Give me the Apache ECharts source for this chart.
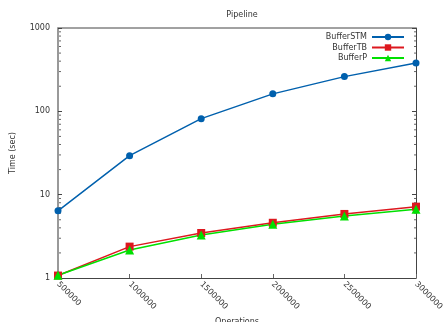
<!DOCTYPE html>
<html>
<head>
<meta charset="utf-8">
<script src="https://cdn.jsdelivr.net/npm/echarts@6/dist/echarts.min.js"></script>
<style>
  html, body { margin: 0; padding: 0; background: #fff; }
  #chart { width: 443px; height: 322px; }
</style>
</head>
<body>
<div id="chart"></div>
<script>
// Operation counts on the x axis
const operations = [500000, 1000000, 1500000, 2000000, 2500000, 3000000];
// Run times in seconds for each buffer implementation
const bufferSTM = [6.4, 29.4, 81.7, 162, 261, 380];
const bufferTB = [1.07, 2.38, 3.47, 4.6, 5.87, 7.18];
const bufferP = [1.08, 2.17, 3.28, 4.41, 5.55, 6.68];
// Log-axis tick values
const yTicks = [1, 10, 100, 1000];

const FONT = 'DejaVu Sans';
const TEXT = '#333';

function pairs(ys) { return operations.map((x, i) => [x, ys[i]]); }

const chart = echarts.init(document.getElementById('chart'), null, { renderer: 'canvas' });

const option = {
  animation: false,
  backgroundColor: '#fff',
  title: {
    text: 'Pipeline', left: 237, textAlign: 'center', top: 6,
    textStyle: { fontFamily: FONT, fontSize: 8, fontWeight: 'normal', color: TEXT }
  },
  legend: {
    top: 28, right: 33, orient: 'vertical', align: 'right',
    itemWidth: 32, itemHeight: 8, itemGap: 2.5,
    textStyle: { fontFamily: FONT, fontSize: 8, color: TEXT },
    data: ['BufferSTM', 'BufferTB', 'BufferP']
  },
  grid: { left: 58, right: 27, top: 28, bottom: 44, outerBoundsMode: 'none' },
  xAxis: {
    type: 'value', min: 500000, max: 3000000, interval: 500000,
    name: 'Operations', nameLocation: 'middle', nameGap: 38,
    nameTextStyle: { fontFamily: FONT, fontSize: 8, color: TEXT },
    axisLine: { lineStyle: { color: '#444', width: 1 } },
    axisTick: { inside: true, length: 4, lineStyle: { color: '#666' } },
    axisLabel: { rotate: -45, fontFamily: FONT, fontSize: 8, color: TEXT, margin: 5,
      formatter: v => String(v) },
    splitLine: { show: false }
  },
  yAxis: [{
    type: 'log', logBase: 10, min: 1, max: 1000,
    name: 'Time (sec)', nameLocation: 'middle', nameGap: 41,
    nameTextStyle: { fontFamily: FONT, fontSize: 8, color: TEXT },
    axisLine: { lineStyle: { color: '#999', width: 2 } },
    axisTick: { inside: true, length: 4, lineStyle: { color: '#444' } },
    axisLabel: { fontFamily: FONT, fontSize: 8, color: TEXT, margin: 8,
      formatter: v => yTicks.includes(Math.round(v)) ? String(Math.round(v)) : '' },
    splitLine: { show: false }
  }, {
    type: 'log', logBase: 10, min: 1, max: 1000, position: 'right',
    axisLine: { show: true, lineStyle: { color: '#444', width: 1 } },
    axisTick: { inside: true, length: 4, lineStyle: { color: '#444' } },
    axisLabel: { show: false },
    splitLine: { show: false }
  }],
  series: [{
    name: 'BufferSTM', type: 'line', data: pairs(bufferSTM),
    symbol: 'circle', symbolSize: 7,
    lineStyle: { color: '#0060ad', width: 1.5 },
    itemStyle: { color: '#0060ad' }
  }, {
    name: 'BufferTB', type: 'line', data: pairs(bufferTB),
    symbol: 'rect', symbolSize: 8,
    lineStyle: { color: '#dd181f', width: 1.5 },
    itemStyle: { color: '#dd181f' }
  }, {
    name: 'BufferP', type: 'line', data: pairs(bufferP),
    symbol: 'triangle', symbolSize: 9,
    lineStyle: { color: '#00e000', width: 1.5 },
    itemStyle: { color: '#00e000' }
  }]
};

chart.setOption(option);

// Top frame line and log minor ticks (2..9 per decade) on both y axes
function drawFrame() {
  const els = [];
  const tl = chart.convertToPixel({ xAxisIndex: 0, yAxisIndex: 0 }, [500000, 1000]);
  const tr = chart.convertToPixel({ xAxisIndex: 0, yAxisIndex: 0 }, [3000000, 1000]);
  els.push({ type: 'line', shape: { x1: tl[0], y1: tl[1], x2: tr[0], y2: tr[1] },
    style: { stroke: '#444', lineWidth: 1 }, silent: true });
  for (let d = 1; d < 1000; d *= 10) {
    for (let k = 2; k <= 9; k++) {
      const y = chart.convertToPixel({ yAxisIndex: 0 }, d * k);
      els.push({ type: 'line', shape: { x1: tl[0] + 1, y1: y, x2: tl[0] + 3, y2: y },
        style: { stroke: '#666', lineWidth: 1 }, silent: true });
      els.push({ type: 'line', shape: { x1: tr[0] - 2, y1: y, x2: tr[0], y2: y },
        style: { stroke: '#666', lineWidth: 1 }, silent: true });
    }
  }
  chart.setOption({ graphic: { elements: els } });
}
drawFrame();
</script>
</body>
</html>
